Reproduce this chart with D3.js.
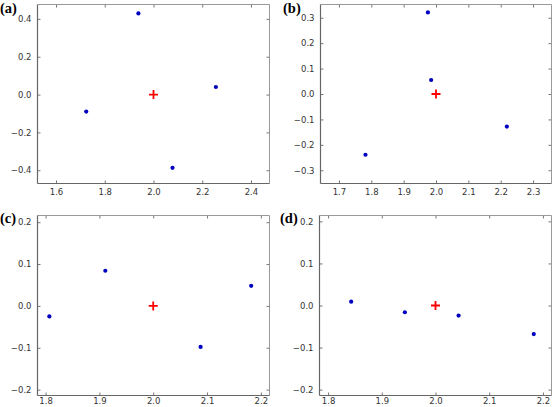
<!DOCTYPE html>
<html>
<head>
<meta charset="utf-8">
<script src="https://cdn.jsdelivr.net/npm/d3@7"></script>
<style>
  html, body { margin: 0; padding: 0; background: #fff; }
  svg { display: block; }
</style>
</head>
<body>
<svg id="chart" width="553" height="407"></svg>
<script>
// ---- Data ----
const panelLabels = ["(a)", "(b)", "(c)", "(d)"];
const xDomains = [[1.524, 2.476], [1.643, 2.357], [1.785, 2.216], [1.784, 2.216]];
const yDomains = [[-0.47, 0.476], [-0.352, 0.352], [-0.214, 0.216], [-0.214, 0.214]];
const xTickValues = [
  [1.6, 1.8, 2.0, 2.2, 2.4],
  [1.7, 1.8, 1.9, 2.0, 2.1, 2.2, 2.3],
  [1.8, 1.9, 2.0, 2.1, 2.2],
  [1.8, 1.9, 2.0, 2.1, 2.2]
];
const yTickValues = [
  [-0.4, -0.2, 0.0, 0.2, 0.4],
  [-0.3, -0.2, -0.1, 0.0, 0.1, 0.2, 0.3],
  [-0.2, -0.1, 0.0, 0.1, 0.2],
  [-0.2, -0.1, 0.0, 0.1, 0.2]
];
const pointsX = [
  [1.724, 1.938, 2.078, 2.256],
  [1.782, 1.975, 1.985, 2.219],
  [1.807, 1.911, 2.088, 2.182],
  [1.843, 1.943, 2.043, 2.183]
];
const pointsY = [
  [-0.090, 0.429, -0.387, 0.040],
  [-0.239, 0.321, 0.055, -0.128],
  [-0.025, 0.084, -0.098, 0.048],
  [0.009, -0.016, -0.024, -0.068]
];
const centerX = [2.0, 2.0, 2.0, 2.0];
const centerY = [0.0, 0.0, 0.0, 0.0];

// ---- Layout ----
const frames = [
  {l: 37.5, r: 269.5, t: 4.5, b: 183.5, lx: 0, ly: 13, pad: 5},
  {l: 320.5, r: 551.5, t: 4.5, b: 183.5, lx: 283, ly: 13, pad: 5},
  {l: 37.5, r: 269.5, t: 215.5, b: 395.5, lx: 0, ly: 222.5, pad: 2.5},
  {l: 319.5, r: 551.5, t: 215.5, b: 395.5, lx: 280, ly: 222.5, pad: 2.5}
];

const svg = d3.select("#chart");
const fmt = v => d3.format(".1f")(v).replace("-", "\u2212");

frames.forEach((f, i) => {
  const x = d3.scaleLinear().domain(xDomains[i]).range([f.l, f.r]);
  const y = d3.scaleLinear().domain(yDomains[i]).range([f.b, f.t]);
  const g = svg.append("g");

  const tickStyle = a => a.call(s => s.select(".domain").remove())
    .call(s => s.selectAll(".tick line").attr("stroke", "#777").attr("stroke-width", 1))
    .call(s => s.selectAll(".tick text").remove());

  g.append("g").attr("transform", `translate(0,${f.b})`)
    .call(d3.axisTop(x).tickValues(xTickValues[i]).tickSize(3)).call(tickStyle);
  g.append("g").attr("transform", `translate(0,${f.t})`)
    .call(d3.axisBottom(x).tickValues(xTickValues[i]).tickSize(3)).call(tickStyle);
  g.append("g").attr("transform", `translate(${f.l},0)`)
    .call(d3.axisRight(y).tickValues(yTickValues[i]).tickSize(3)).call(tickStyle);
  g.append("g").attr("transform", `translate(${f.r},0)`)
    .call(d3.axisLeft(y).tickValues(yTickValues[i]).tickSize(3)).call(tickStyle);

  const xl = g.append("g").attr("transform", `translate(0,${f.b})`)
    .call(d3.axisBottom(x).tickValues(xTickValues[i]).tickSize(0).tickPadding(f.pad).tickFormat(fmt));
  xl.select(".domain").remove();
  xl.selectAll("text").attr("fill", "#333").attr("font-size", 8.5)
    .attr("font-family", "DejaVu Sans, sans-serif");

  const yl = g.append("g").attr("transform", `translate(${f.l},0)`)
    .call(d3.axisLeft(y).tickValues(yTickValues[i]).tickSize(0).tickPadding(6).tickFormat(fmt));
  yl.select(".domain").remove();
  yl.selectAll("text").attr("fill", "#333").attr("font-size", 8.5)
    .attr("font-family", "DejaVu Sans, sans-serif");

  g.append("line").attr("x1", f.l).attr("x2", f.r).attr("y1", f.t).attr("y2", f.t)
    .attr("stroke", "#999").attr("stroke-width", 1);
  g.append("line").attr("x1", f.r).attr("x2", f.r).attr("y1", f.t).attr("y2", f.b)
    .attr("stroke", "#999").attr("stroke-width", 1);
  g.append("line").attr("x1", f.l).attr("x2", f.r).attr("y1", f.b).attr("y2", f.b)
    .attr("stroke", "#666").attr("stroke-width", 1.2);
  g.append("line").attr("x1", f.l).attr("x2", f.l).attr("y1", f.t).attr("y2", f.b)
    .attr("stroke", "#666").attr("stroke-width", 1.2);

  const pts = pointsX[i].map((v, j) => ({x: v, y: pointsY[i][j]}));
  g.selectAll("circle.pt").data(pts).join("circle")
    .attr("class", "pt")
    .attr("cx", d => x(d.x)).attr("cy", d => y(d.y)).attr("r", 2.1)
    .attr("fill", "#0000c0");

  const cx = x(centerX[i]), cy = y(centerY[i]);
  g.append("path")
    .attr("d", `M${cx - 4.5},${cy}H${cx + 4.5}M${cx},${cy - 4.5}V${cy + 4.5}`)
    .attr("stroke", "#ff0000").attr("stroke-width", 1.8).attr("fill", "none");

  g.append("text").attr("x", f.lx).attr("y", f.ly)
    .attr("font-family", "Liberation Serif, Times New Roman, serif")
    .attr("font-weight", "bold").attr("font-size", 14.5)
    .attr("fill", "#000")
    .text(panelLabels[i]);
});
</script>
</body>
</html>
